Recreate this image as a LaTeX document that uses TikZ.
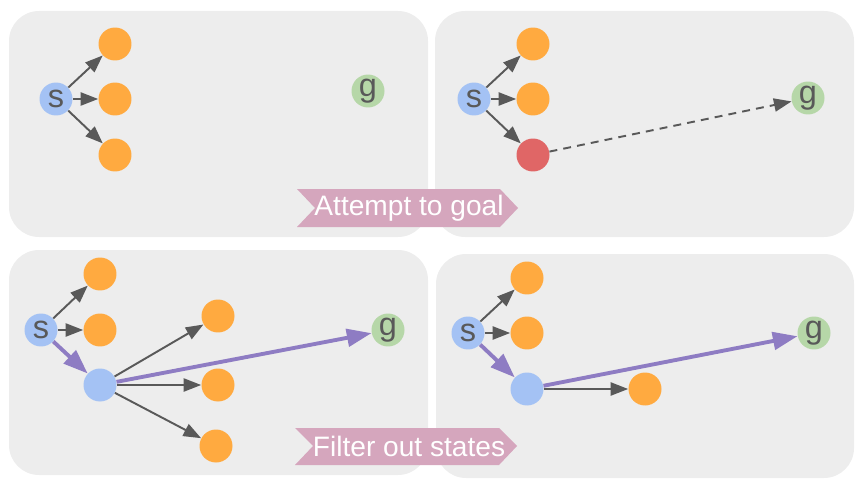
\documentclass[tikz,border=0pt]{standalone}
\usepackage{fontspec}
\setmainfont{Liberation Sans}
\usetikzlibrary{arrows.meta}
\definecolor{panelgray}{HTML}{EDEDED}
\definecolor{stOrange}{HTML}{FFAA40}
\definecolor{stBlue}{HTML}{A4C2F4}
\definecolor{stGreen}{HTML}{B6D7A8}
\definecolor{stRed}{HTML}{E06666}
\definecolor{stPurple}{HTML}{8E7CC3}
\definecolor{stGray}{HTML}{595959}
\definecolor{tagPink}{HTML}{D5A6BD}
\begin{document}
\begin{tikzpicture}[x=0.02cm, y=-0.02cm,
  st/.style={circle, minimum size=0.66cm, inner sep=0pt, font=\fontsize{18.5}{18.5}\selectfont, text=stGray},
  edge/.style={draw=stGray, line width=1.1pt, -{Triangle[length=10pt, width=7.5pt]}},
  path/.style={draw=stPurple, line width=2.2pt, -{Triangle[length=14pt, width=10pt]}},
  panel/.style={fill=panelgray, rounded corners=0.6cm},
  tag/.style={text=white, font=\fontsize{16}{16}\selectfont, inner sep=0pt}]
\useasboundingbox (0,0) rectangle (861,486);
\fill[panel] (9,11) rectangle (428,237);
\fill[panel] (435,11) rectangle (854,237);
\fill[panel] (9,250) rectangle (428,475);
\fill[panel] (436,254) rectangle (854,478);
% top left
\node[st, fill=stBlue] (tls) at (56,99){s};
\node[st, fill=stOrange] (tla) at (115,44){};
\node[st, fill=stOrange] (tlb) at (115,99){};
\node[st, fill=stOrange] (tlc) at (115,155){};
\node[st, fill=stGreen] (tlg) at (368,91){g};
\draw[edge](tls) -- (tla);
\draw[edge](tls) -- (tlb);
\draw[edge](tls) -- (tlc);
% top right
\node[st, fill=stBlue] (trs) at (474,99){s};
\node[st, fill=stOrange] (tra) at (533,44){};
\node[st, fill=stOrange] (trb) at (533,99){};
\node[st, fill=stRed] (trc) at (533,155){};
\node[st, fill=stGreen] (trg) at (808,98){g};
\draw[edge](trs) -- (tra);
\draw[edge](trs) -- (trb);
\draw[edge](trs) -- (trc);
\draw[edge, dash pattern=on 4.5pt off 3.5pt](trc) -- (trg);
% bottom left
\node[st, fill=stBlue] (bls) at (41,330){s};
\node[st, fill=stOrange] (bla) at (100,274){};
\node[st, fill=stOrange] (blb) at (100,330){};
\node[st, fill=stBlue] (blm) at (100,385){};
\node[st, fill=stOrange] (bld) at (218,316){};
\node[st, fill=stOrange] (ble) at (218,385){};
\node[st, fill=stOrange] (blf) at (216,446){};
\node[st, fill=stGreen] (blg) at (388,330){g};
\draw[edge](bls) -- (bla);
\draw[edge](bls) -- (blb);
\draw[edge](blm) -- (bld);
\draw[edge](blm) -- (ble);
\draw[edge](blm) -- (blf);
\draw[path](bls) -- (blm);
\draw[path](blm) -- (blg);
% bottom right
\node[st, fill=stBlue] (brs) at (468,333){s};
\node[st, fill=stOrange] (bra) at (527,278){};
\node[st, fill=stOrange] (brb) at (527,333){};
\node[st, fill=stBlue] (brm) at (527,389){};
\node[st, fill=stOrange] (brd) at (645,389){};
\node[st, fill=stGreen] (brg) at (814,333){g};
\draw[edge](brs) -- (bra);
\draw[edge](brs) -- (brb);
\draw[edge](brm) -- (brd);
\draw[path](brs) -- (brm);
\draw[path](brm) -- (brg);
% tags
\fill[tagPink] (297,189) -- (500,189) -- (518,208) -- (500,227) -- (297,227) -- (315,208) -- cycle;
\node[tag] (tag1) at (409,208){Attempt to goal};
\fill[tagPink] (295,428) -- (499,428) -- (517,446) -- (499,465) -- (295,465) -- (313,446) -- cycle;
\node[tag] (tag2) at (409,446){Filter out states};
\end{tikzpicture}
\end{document}
